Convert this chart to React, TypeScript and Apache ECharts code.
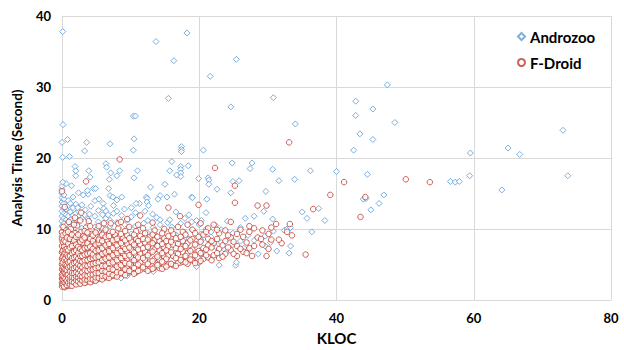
import React, { useEffect, useRef } from "react";
import * as echarts from "echarts";

// Axis ranges / ticks
const X_MIN = 0, X_MAX = 80, X_INTERVAL = 20;
const Y_MIN = 0, Y_MAX = 40, Y_INTERVAL = 10;
const SERIES_NAMES = ["Androzoo", "F-Droid"];

// Androzoo: sparse points (KLOC, seconds)
const androzooSparse: [number, number][] = [
  [0.1, 37.8], [13.7, 36.4], [18.2, 37.6], [16.3, 33.7], [25.4, 33.9], [21.6, 31.5], [15.5, 28.4],
  [30.8, 28.5], [10.4, 25.9], [10.7, 25.9], [24.6, 27.2], [34.0, 24.8], [20.6, 21.1], [47.4, 30.3],
  [42.8, 28.0], [45.3, 26.9], [42.8, 26.0], [48.5, 25.0], [43.4, 23.4], [45.3, 22.6], [42.5, 21.1],
  [59.5, 20.7], [65.0, 21.4], [66.7, 20.5], [73.0, 23.9], [56.6, 16.7], [57.3, 16.6], [57.9, 16.7],
  [59.4, 17.5], [64.1, 15.5], [73.7, 17.5],
  [0.15, 24.7], [0.0, 22.2], [0.8, 22.6], [3.6, 22.2], [7.0, 22.0], [3.3, 21.0], [0.1, 20.1], [1.1, 20.2],
  [1.9, 18.8], [2.0, 18.2], [3.9, 18.2], [6.4, 19.2], [6.5, 18.7], [7.1, 17.9], [8.4, 18.2], [8.0, 17.5],
  [4.1, 17.3], [6.9, 17.0], [0.1, 16.6], [1.4, 16.1], [4.6, 15.7], [4.9, 15.7], [6.8, 15.7], [3.7, 15.4],
  [2.4, 15.1], [3.1, 14.8], [5.4, 14.2], [7.0, 14.7], [7.4, 14.5], [8.0, 14.1], [8.7, 14.5], [10.8, 13.6],
  [12.1, 12.5], [13.8, 11.6], [14.3, 11.3], [15.7, 11.3], [18.9, 11.0], [2.3, 13.0], [2.9, 13.4],
  [3.4, 12.7], [4.0, 12.1], [6.0, 13.6], [6.1, 12.9], [6.4, 12.5], [6.7, 12.0], [8.7, 11.9], [10.1, 11.7],
  [9.6, 11.3], [13.2, 12.1],
  [10.5, 22.7], [10.4, 21.1], [17.4, 21.6], [17.4, 21.2], [17.4, 20.9], [16.0, 19.5], [17.3, 18.8],
  [17.3, 18.4], [17.3, 17.9], [17.3, 17.4], [18.4, 18.9], [15.7, 18.2], [16.7, 17.6], [11.0, 18.2],
  [10.5, 17.2], [19.9, 17.1], [21.3, 17.2], [15.0, 16.3], [12.9, 15.9], [16.4, 14.9], [18.9, 14.5],
  [15.3, 14.5], [14.3, 14.7], [12.3, 14.5], [12.4, 14.3], [12.4, 13.8], [12.6, 13.3], [14.0, 14.2],
  [19.0, 14.4], [19.6, 11.2], [20.0, 10.6],
  [24.8, 19.3], [27.7, 19.3], [27.4, 18.5], [30.7, 18.4], [36.2, 18.2], [40.0, 18.1], [44.5, 17.7],
  [21.4, 16.9], [21.4, 16.3], [24.9, 16.7], [25.8, 16.8], [22.6, 15.6], [24.6, 15.1], [29.7, 15.3],
  [31.6, 16.8], [33.9, 17.0], [21.1, 14.2], [29.4, 12.5], [43.9, 14.2], [37.4, 12.9], [35.0, 12.4],
  [35.7, 11.5], [44.3, 14.3], [45.0, 12.7], [46.2, 13.6], [46.9, 14.8], [38.3, 11.2], [30.7, 11.4],
  [26.7, 11.5], [30.8, 9.7], [32.4, 9.8], [32.8, 10.0], [33.3, 10.2], [36.4, 9.6], [33.3, 7.6],
  [33.1, 6.6], [25.3, 4.9], [25.4, 5.3], [26.5, 7.3], [24.1, 6.9], [22.9, 4.9],
];

// Androzoo: dense region, listed as [KLOC, [seconds...]]
const androzooDense: [number, number[]][] = [
  [0.0, [8.9, 9.7, 10.4, 11.1, 11.8, 12.5, 13.2, 13.8, 14.4, 15.0, 15.6, 16.0]],
  [0.3, [9.3, 10.0, 10.8, 11.5, 12.2, 12.9, 13.6, 14.2, 14.8]],
  [0.6, [8.6, 9.6, 10.5, 11.3, 12.0, 12.8, 16.4]],
  [0.9, [10.1, 11.0, 11.8, 13.3, 14.0]],
  [1.2, [9.2, 10.3, 11.3, 12.4, 13.6]],
  [1.6, [10.8, 11.9, 13.0, 14.5]],
  [2.0, [9.5, 10.6, 12.2, 13.5, 17.5]],
  [2.4, [11.2, 12.5]],
  [2.9, [10.1, 11.5]],
  [3.3, [9.8, 12.0]],
  [3.8, [10.6, 11.4, 14.9]],
  [4.2, [9.1, 13.2]],
  [4.8, [10.3, 11.8, 14.0]],
  [5.3, [9.6, 11.0, 12.6]],
  [5.9, [10.1, 12.0]],
  [6.4, [3.4, 9.3, 11.5]],
  [7.0, [10.4, 11.2]],
  [7.5, [9.0, 12.2, 13.3]],
  [8.0, [10.9, 12.5]],
  [8.6, [3.1, 9.7]],
  [9.1, [10.6, 12.8]],
  [9.5, [3.4, 8.2]],
  [10.1, [9.3, 13.0]],
  [10.7, [3.8, 7.7, 10.4, 12.3]],
  [11.3, [8.6, 9.9, 13.6]],
  [11.9, [6.2, 10.8]],
  [12.5, [7.3, 9.4, 11.2]],
  [13.3, [4.0, 8.0, 10.2]],
  [13.8, [5.6, 9.0]],
  [14.3, [6.9, 10.6]],
  [14.8, [4.6, 8.5, 9.7]],
  [15.4, [6.0, 7.4, 10.9]],
  [16.0, [5.0, 8.8, 10.3]],
  [16.6, [6.6, 9.2, 12.4]],
  [17.3, [5.2, 7.6, 8.2, 10.8]],
  [17.9, [6.1, 9.5, 11.5]],
  [18.5, [7.0, 8.6, 12.0]],
  [19.1, [5.8, 9.8]],
  [19.6, [4.7, 7.9]],
  [20.3, [6.4, 8.4, 9.3, 11.2]],
  [21.0, [7.1, 10.0, 12.3]],
  [21.7, [6.0, 8.9, 9.6]],
  [22.4, [7.5, 10.5]],
  [23.2, [6.7, 8.1, 9.9]],
  [24.1, [8.6, 11.1]],
  [24.9, [7.8, 9.4]],
  [26.0, [8.3, 10.2]],
  [27.1, [7.0, 9.1]],
  [28.0, [8.4, 11.8]],
  [28.6, [6.5]],
  [29.6, [7.6, 9.0]],
  [30.4, [8.1]],
  [31.3, [6.9]],
];

// F-Droid: listed as [KLOC, [seconds...]]
const fdroidColumns: [number, number[]][] = [
  [0.0, [1.9, 2.4, 3.0, 3.6, 4.3, 5.0, 5.8, 6.7, 7.6, 8.6, 9.5, 15.3]],
  [0.2, [2.1, 2.7, 3.3, 4.0, 4.7, 5.4, 6.2, 7.1, 8.0, 10.3]],
  [0.4, [1.8, 2.3, 2.9, 3.5, 4.1, 4.8, 5.5, 6.3, 7.3, 8.9, 13.1]],
  [0.6, [2.0, 2.6, 3.2, 3.8, 4.5, 5.2, 6.0, 6.8, 7.8, 9.8]],
  [0.8, [2.2, 2.8, 3.4, 4.1, 4.9, 5.6, 6.5, 7.4, 8.4]],
  [1.0, [2.0, 2.5, 3.1, 3.7, 4.4, 5.1, 5.9, 6.7, 7.7, 9.1, 11.0]],
  [1.3, [2.3, 2.9, 3.5, 4.2, 4.8, 5.6, 6.3, 7.2, 8.2, 10.0]],
  [1.6, [2.2, 2.7, 3.3, 4.0, 4.6, 5.3, 6.1, 6.9, 7.9, 8.8]],
  [1.9, [2.4, 3.0, 3.6, 4.3, 5.0, 5.8, 6.6, 7.5, 9.4, 11.6]],
  [2.2, [2.3, 2.8, 3.4, 4.1, 4.7, 5.5, 6.3, 7.1, 8.1, 10.5]],
  [2.5, [2.5, 3.1, 3.8, 4.4, 5.2, 6.0, 6.8, 7.7, 8.7]],
  [2.8, [2.4, 3.0, 3.6, 4.3, 4.9, 5.7, 6.5, 7.4, 9.6, 12.3]],
  [3.1, [2.6, 3.2, 3.9, 4.6, 5.3, 6.1, 7.0, 8.0, 9.0]],
  [3.5, [2.5, 3.1, 3.7, 4.4, 5.1, 5.9, 6.7, 7.6, 8.5, 10.2, 16.7]],
  [3.9, [2.7, 3.3, 4.0, 4.7, 5.5, 6.3, 7.2, 8.2, 11.1]],
  [4.3, [2.6, 3.2, 3.8, 4.5, 5.3, 6.1, 6.9, 7.8, 9.3]],
  [4.7, [2.8, 3.5, 4.2, 4.9, 5.7, 6.6, 7.5, 8.6]],
  [5.1, [2.9, 3.4, 4.0, 4.8, 5.5, 6.3, 7.2, 8.1, 9.9]],
  [5.6, [3.0, 3.6, 4.3, 5.1, 5.9, 6.8, 7.7, 8.9]],
  [6.1, [3.1, 3.8, 4.5, 5.3, 6.1, 7.0, 8.0, 9.5, 10.8]],
  [6.6, [3.2, 3.9, 4.7, 5.5, 6.4, 7.4, 8.4]],
  [7.1, [3.3, 4.1, 4.9, 5.7, 6.6, 7.6, 8.7, 10.8]],
  [7.7, [3.4, 4.2, 5.0, 6.0, 7.0, 8.1, 9.2]],
  [8.2, [3.6, 4.4, 5.3, 6.2, 7.2, 8.3, 10.1, 10.8]],
  [8.4, [19.8]],
  [8.9, [3.7, 4.6, 5.5, 6.5, 7.6, 8.8]],
  [9.5, [3.8, 4.8, 5.8, 6.8, 7.9, 9.1, 11.4]],
  [10.1, [4.0, 4.9, 6.0, 7.1, 8.2]],
  [10.8, [3.9, 5.1, 6.2, 7.4, 8.6, 9.7]],
  [11.4, [4.2, 5.3, 6.5, 7.8, 9.0, 11.9]],
  [12.1, [4.4, 5.6, 6.8, 8.1, 9.4]],
  [12.8, [4.3, 5.4, 6.6, 7.9, 8.9]],
  [13.5, [4.6, 5.8, 7.1, 8.4, 9.8]],
  [14.2, [4.5, 5.7, 7.0, 8.3]],
  [14.9, [4.8, 6.1, 7.4, 8.7, 10.0]],
  [15.5, [5.0, 6.3, 7.6, 9.0, 13.0]],
  [16.2, [4.9, 6.2, 7.8, 9.3]],
  [16.9, [5.2, 6.5, 7.9, 10.3]],
  [17.2, [11.8]],
  [17.6, [5.4, 6.8, 8.3, 9.6]],
  [18.3, [5.1, 6.6, 8.0, 10.6]],
  [19.0, [5.6, 7.1, 8.6, 9.9]],
  [19.9, [5.3, 6.9, 8.9, 13.4]],
  [20.6, [5.8, 7.3, 9.2]],
  [21.3, [6.0, 7.7, 8.6, 10.1]],
  [22.1, [6.3, 8.0, 10.6]],
  [22.3, [18.6]],
  [22.9, [5.9, 7.2, 9.4]],
  [23.8, [6.5, 8.3, 9.8]],
  [24.6, [7.0, 8.8, 11.0]],
  [25.2, [13.7, 16.1]],
  [25.5, [6.2, 7.6, 9.3]],
  [26.4, [6.8, 8.9]],
  [27.3, [7.3, 9.6, 10.4]],
  [27.7, [6.2]],
  [28.5, [8.8, 13.3]],
  [29.2, [7.8, 9.8]],
  [29.8, [6.2, 13.3]],
  [30.5, [8.5, 10.2]],
  [31.2, [10.7]],
  [32.0, [8.0]],
  [33.1, [22.2]],
  [33.2, [10.7]],
  [33.5, [9.1]],
  [35.5, [6.4]],
  [36.6, [12.8]],
  [39.1, [14.8]],
  [41.1, [16.6]],
  [43.5, [11.7]],
  [44.2, [14.5]],
  [50.1, [17.0]],
  [53.6, [16.6]],
];

// F-Droid: further points in the dense band, [KLOC, [seconds...]]
const fdroidDenseExtra: [number, number[]][] = [
  [0.1, [2.2, 2.9, 3.4, 4.6, 5.3, 6.0, 6.9, 8.2, 9.1]],
  [0.3, [1.9, 2.5, 3.1, 3.9, 4.4, 5.7, 6.5, 7.5, 8.4]],
  [0.5, [2.4, 3.0, 3.7, 4.3, 5.0, 5.9, 6.6, 7.1, 8.2, 9.4]],
  [0.7, [2.1, 2.7, 3.5, 4.2, 4.8, 5.5, 6.3, 7.2, 8.8]],
  [0.9, [2.4, 3.1, 3.6, 4.6, 5.3, 6.1, 7.0, 7.9, 9.6]],
  [1.15, [2.2, 2.7, 3.3, 4.0, 4.7, 5.4, 6.2, 7.4, 8.6]],
  [1.45, [2.0, 2.6, 3.2, 3.8, 4.5, 5.0, 5.9, 6.6, 7.6, 9.2]],
  [1.75, [2.5, 3.1, 3.8, 4.5, 5.2, 6.0, 6.8, 8.4, 10.6]],
  [2.05, [2.2, 2.8, 3.3, 3.9, 4.6, 5.3, 6.1, 7.0, 7.8, 8.9]],
  [2.35, [2.6, 3.2, 3.7, 4.4, 5.0, 5.8, 6.6, 7.5, 9.2]],
  [2.65, [2.3, 2.9, 3.4, 4.1, 4.8, 5.5, 6.2, 7.2, 8.2, 11.2]],
  [2.95, [2.7, 3.3, 3.9, 4.6, 5.4, 6.2, 7.0, 8.5]],
  [3.3, [2.4, 2.9, 3.5, 4.2, 4.9, 5.6, 6.4, 7.3, 8.8, 9.7]],
  [3.7, [2.8, 3.4, 4.1, 4.8, 5.6, 6.5, 7.4, 8.0, 9.5]],
  [4.1, [2.5, 3.0, 3.6, 4.3, 5.0, 5.8, 6.6, 7.5, 8.6, 10.4]],
  [4.5, [2.9, 3.6, 4.3, 5.1, 5.9, 6.4, 7.2, 8.3, 9.1]],
  [4.9, [2.7, 3.2, 3.8, 4.5, 5.2, 6.0, 6.9, 7.8, 9.5]],
  [5.35, [3.1, 3.8, 4.6, 5.3, 6.1, 7.0, 8.0, 8.5, 10.4]],
  [5.85, [2.9, 3.4, 4.1, 4.8, 5.6, 6.5, 7.3, 8.3, 9.2]],
  [6.35, [3.3, 4.0, 4.8, 5.8, 6.7, 7.7, 8.9, 9.9]],
  [6.85, [3.1, 3.7, 4.4, 5.2, 6.0, 6.9, 7.9, 9.0]],
  [7.4, [3.5, 4.3, 5.3, 6.3, 7.3, 8.4, 9.6]],
  [8.0, [3.3, 3.9, 4.7, 5.6, 6.6, 7.7, 8.6]],
  [8.6, [3.8, 4.9, 5.9, 6.9, 8.0, 9.3, 11.0]],
  [9.2, [3.5, 4.3, 5.2, 6.2, 7.2, 8.4, 9.7]],
  [9.8, [4.1, 5.1, 6.3, 7.4, 8.7, 10.3]],
  [10.5, [3.7, 4.5, 5.6, 6.7, 7.8, 9.2]],
  [11.1, [4.1, 5.0, 6.0, 7.1, 8.3, 10.6]],
  [11.8, [4.6, 5.9, 7.3, 8.6, 10.1]],
  [12.5, [4.1, 5.1, 6.3, 7.5, 8.5]],
  [13.2, [4.4, 5.5, 6.8, 8.0, 9.2, 10.9]],
  [13.9, [4.9, 6.1, 7.6, 8.9]],
  [14.6, [4.4, 5.4, 6.6, 7.9, 9.4]],
  [15.2, [4.7, 5.8, 7.0, 8.3]],
  [15.9, [5.1, 6.7, 8.2, 9.8]],
  [16.6, [4.8, 5.9, 7.3, 8.7]],
  [17.3, [5.6, 7.2, 8.9]],
  [18.0, [5.3, 6.2, 7.6, 9.2]],
  [18.7, [5.7, 6.9, 8.4]],
  [19.4, [5.2, 6.3, 7.8, 9.4]],
  [20.2, [5.5, 6.6, 8.2, 10.8]],
  [21.0, [6.3, 7.1, 9.6]],
  [21.8, [5.6, 7.4, 8.3]],
  [22.6, [6.6, 8.6, 9.9]],
  [23.4, [6.1, 7.7]],
  [24.2, [7.4, 9.1]],
  [25.0, [6.5, 8.2]],
  [26.0, [7.2, 9.9]],
  [26.9, [6.6, 8.1]],
  [28.0, [7.6, 10.1]],
  [29.0, [8.6]],
  [30.1, [7.2, 9.3]],
  [31.6, [8.5]],
  [32.8, [9.6]],
];

const flatten = (cols: [number, number[]][]): [number, number][] =>
  cols.flatMap(([x, ys]) => ys.map((y) => [x, y] as [number, number]));

const FONT = "Lato, 'Liberation Sans', sans-serif";

export default function App() {
  const ref = useRef<HTMLDivElement>(null);
  useEffect(() => {
    if (!ref.current) return;
    const chart = echarts.init(ref.current, null, { renderer: "svg" });
    const androzoo = [...flatten(androzooDense), ...androzooSparse];
    const fdroid = [...flatten(fdroidColumns), ...flatten(fdroidDenseExtra)];
    const axisCommon = {
      type: "value" as const,
      nameLocation: "middle" as const,
      axisLine: { show: true, lineStyle: { color: "#d9d9d9", width: 1 } },
      axisTick: { show: false },
      splitLine: { show: true, lineStyle: { color: "#d9d9d9", width: 1 } },
    };
    const labelStyle = { margin: 11, fontFamily: FONT, fontWeight: "bold" as const, fontSize: 13, color: "#000" };
    chart.setOption({
      animation: false,
      backgroundColor: "#ffffff",
      grid: { left: 62, right: 13, top: 16, bottom: 47 },
      legend: {
        orient: "vertical",
        left: 517,
        top: 28,
        padding: 0,
        itemWidth: 7,
        itemHeight: 7,
        itemGap: 9,
        data: SERIES_NAMES,
        textStyle: { fontFamily: FONT, fontWeight: "bold", fontSize: 15, color: "#000", lineHeight: 17 },
      },
      xAxis: {
        ...axisCommon,
        min: X_MIN,
        max: X_MAX,
        interval: X_INTERVAL,
        name: "KLOC",
        nameGap: 30,
        nameTextStyle: { fontFamily: FONT, fontWeight: "bold", fontSize: 15, color: "#000" },
        axisLabel: labelStyle,
      },
      yAxis: {
        ...axisCommon,
        min: Y_MIN,
        max: Y_MAX,
        interval: Y_INTERVAL,
        name: "Analysis Time (Second)",
        nameGap: 38,
        nameTextStyle: { fontFamily: FONT, fontWeight: "bold", fontSize: 13.5, color: "#000" },
        axisLabel: labelStyle,
      },
      series: [
        {
          name: SERIES_NAMES[0],
          type: "scatter",
          data: androzoo,
          symbol: "diamond",
          symbolSize: 6,
          itemStyle: { color: "#ffffff", borderColor: "#5b9bd5", borderWidth: 1 },
        },
        {
          name: SERIES_NAMES[1],
          type: "scatter",
          data: fdroid,
          symbol: "circle",
          symbolSize: 5.5,
          itemStyle: { color: "#ffffff", borderColor: "#c0392b", borderWidth: 1 },
        },
      ],
    });
    return () => chart.dispose();
  }, []);
  return <div ref={ref} style={{ position: "fixed", left: 0, top: 0, width: 624, height: 350 }} />;
}
